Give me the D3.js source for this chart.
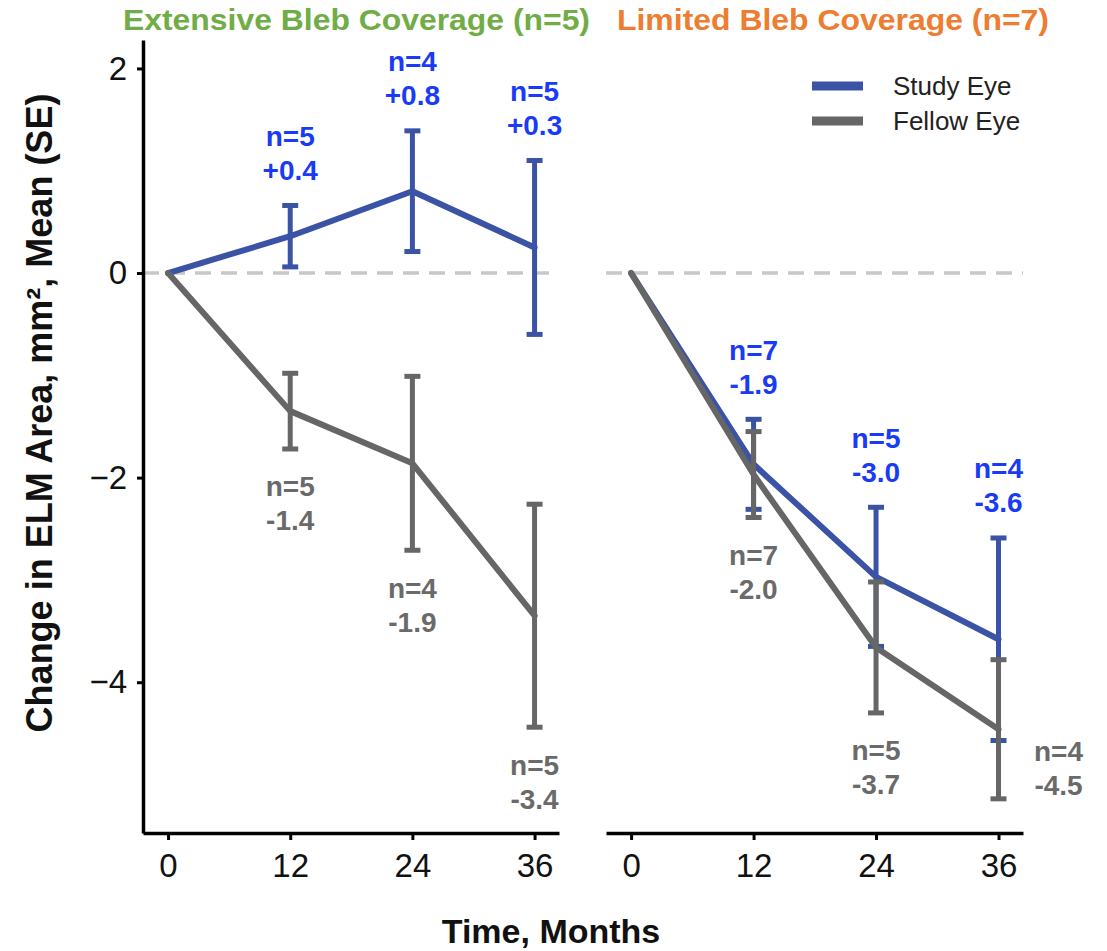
<!DOCTYPE html>
<html><head><meta charset="utf-8">
<script src="https://cdn.jsdelivr.net/npm/d3@7"></script>
<style>body{margin:0;background:#fff} svg text{font-family:"Liberation Sans",Arial,Helvetica,sans-serif}</style>
</head><body><svg id="chart" width="1107" height="951"></svg>
<script>
// ---- data ----
const months = [0, 12, 24, 36];
const panelTitles = ["Extensive Bleb Coverage (n=5)", "Limited Bleb Coverage (n=7)"];
const seriesNames = ["Study Eye", "Fellow Eye"];
const yTicks = [2, 0, -2, -4];

const extStudyMean  = [0, 0.36, 0.80, 0.25];
const extStudySE    = [0, 0.30, 0.59, 0.85];
const extStudyN     = [null, 5, 4, 5];
const extStudyLabel = ["", "+0.4", "+0.8", "+0.3"];

const extFellowMean  = [0, -1.35, -1.86, -3.35];
const extFellowSE    = [0, 0.37, 0.85, 1.09];
const extFellowN     = [null, 5, 4, 5];
const extFellowLabel = ["", "-1.4", "-1.9", "-3.4"];

const limStudyMean  = [0, -1.87, -2.97, -3.58];
const limStudySE    = [0, 0.44, 0.68, 0.99];
const limStudyN     = [null, 7, 5, 4];
const limStudyLabel = ["", "-1.9", "-3.0", "-3.6"];

const limFellowMean  = [0, -1.97, -3.66, -4.46];
const limFellowSE    = [0, 0.42, 0.64, 0.68];
const limFellowN     = [null, 7, 5, 4];
const limFellowLabel = ["", "-2.0", "-3.7", "-4.5"];

// ---- build ----
const panels = [
  {title: panelTitles[0], titleColor: "#70AD47", range: [143, 559], titleX: 123, titleW: 467,
   series: [
     {name: seriesNames[0], mean: extStudyMean, se: extStudySE, n: extStudyN, label: extStudyLabel},
     {name: seriesNames[1], mean: extFellowMean, se: extFellowSE, n: extFellowN, label: extFellowLabel}]},
  {title: panelTitles[1], titleColor: "#ED7D31", range: [606, 1023], titleX: 617, titleW: 432,
   series: [
     {name: seriesNames[0], mean: limStudyMean, se: limStudySE, n: limStudyN, label: limStudyLabel},
     {name: seriesNames[1], mean: limFellowMean, se: limFellowSE, n: limFellowN, label: limFellowLabel}]}
];

const lineColor  = {"Study Eye": "#3A53A4", "Fellow Eye": "#666666"};
const labelColor = {"Study Eye": "#1A3BF5", "Fellow Eye": "#6A6A6A"};

const svg = d3.select("#chart");
const plotTop = 40, plotBottom = 833;
const y = d3.scaleLinear().domain([-5.474, 2.278]).range([plotBottom, plotTop]);

panels.forEach((p, pi) => {
  const x = d3.scaleLinear().domain([-2.46, 38.4]).range(p.range);
  const g = svg.append("g");

  // zero reference
  g.append("line")
    .attr("x1", p.range[0]).attr("x2", p.range[1])
    .attr("y1", y(0)).attr("y2", y(0))
    .attr("stroke", "#C8C8C8").attr("stroke-width", 3.5)
    .attr("stroke-dasharray", "16,10");

  // x axis
  const xa = g.append("g").attr("transform", `translate(0,${plotBottom})`)
    .call(d3.axisBottom(x).tickValues(months).tickSize(7).tickPadding(14).tickSizeOuter(0));
  xa.select(".domain").attr("stroke", "#000").attr("stroke-width", 3.5);
  xa.selectAll(".tick line").attr("stroke", "#000").attr("stroke-width", 3);
  xa.selectAll(".tick text").attr("font-size", 33).attr("fill", "#111")
    .attr("font-family", "Liberation Sans, Arial, sans-serif");

  if (pi === 0) {
    const ya = g.append("g").attr("transform", `translate(${p.range[0]},0)`)
      .call(d3.axisLeft(y).tickValues(yTicks).tickSize(6).tickPadding(10).tickSizeOuter(0));
    ya.select(".domain").attr("stroke", "#000").attr("stroke-width", 3.5);
    ya.selectAll(".tick line").attr("stroke", "#000").attr("stroke-width", 3);
    ya.selectAll(".tick text").attr("font-size", 33).attr("fill", "#111")
      .attr("font-family", "Liberation Sans, Arial, sans-serif");
  }

  // series
  p.series.forEach(s => {
    const col = lineColor[s.name];
    const pts = months.map((m, i) => ({m, mean: s.mean[i], se: s.se[i], n: s.n[i], label: s.label[i]}));
    const bars = pts.filter(d => d.se > 0);
    const eb = g.append("g");
    bars.forEach(d => {
      const xx = x(d.m), yt = y(d.mean + d.se), yb = y(d.mean - d.se);
      eb.append("line").attr("x1", xx).attr("x2", xx).attr("y1", yt).attr("y2", yb)
        .attr("stroke", col).attr("stroke-width", 5);
      [yt, yb].forEach(yy => eb.append("line")
        .attr("x1", xx - 8).attr("x2", xx + 8).attr("y1", yy).attr("y2", yy)
        .attr("stroke", col).attr("stroke-width", 5));
    });
    g.append("path").datum(pts)
      .attr("d", d3.line().x(d => x(d.m)).y(d => y(d.mean)))
      .attr("fill", "none").attr("stroke", col).attr("stroke-width", 6)
      .attr("stroke-linejoin", "round").attr("stroke-linecap", "round");

    // labels
    const lc = labelColor[s.name];
    bars.forEach(d => {
      let lx = x(d.m), y1, y2;
      if (s.name === "Study Eye") {
        const yt = y(d.mean + d.se);
        y1 = yt - 69; y2 = yt - 35;
      } else {
        const yb = y(d.mean - d.se);
        if (yb + 86 > plotBottom) {
          lx = x(d.m) + 60; y1 = y(d.mean) + 22; y2 = y(d.mean) + 56;
        } else {
          y1 = yb + 38; y2 = yb + 72;
        }
      }
      [["n=" + d.n, y1], [d.label, y2]].forEach(([t, yy]) =>
        g.append("text").attr("x", lx).attr("y", yy)
          .attr("text-anchor", "middle").attr("dominant-baseline", "central")
          .attr("font-size", 28).attr("font-weight", "bold").attr("fill", lc).text(t));
    });
  });

  // panel title
  svg.append("text").attr("x", p.titleX).attr("y", 30)
    .attr("font-size", 30).attr("font-weight", "bold").attr("fill", p.titleColor)
    .attr("textLength", p.titleW).attr("lengthAdjust", "spacingAndGlyphs")
    .text(p.title);
});

// legend
const leg = svg.append("g");
seriesNames.forEach((nm, i) => {
  const yy = 86 + i * 35;
  leg.append("line").attr("x1", 812).attr("x2", 863).attr("y1", yy).attr("y2", yy)
    .attr("stroke", lineColor[nm]).attr("stroke-width", 9);
  leg.append("text").attr("x", 893).attr("y", yy).attr("dominant-baseline", "central")
    .attr("font-size", 26).attr("fill", "#222").text(nm);
});

// axis titles
svg.append("text").attr("x", 551).attr("y", 943).attr("text-anchor", "middle")
  .attr("font-size", 34).attr("font-weight", "bold").attr("fill", "#111")
  .text("Time, Months");
svg.append("text").attr("transform", "translate(52,413) rotate(-90)")
  .attr("text-anchor", "middle")
  .attr("font-size", 36).attr("font-weight", "bold").attr("fill", "#111")
  .text("Change in ELM Area, mm², Mean (SE)");
</script>
</body></html>
